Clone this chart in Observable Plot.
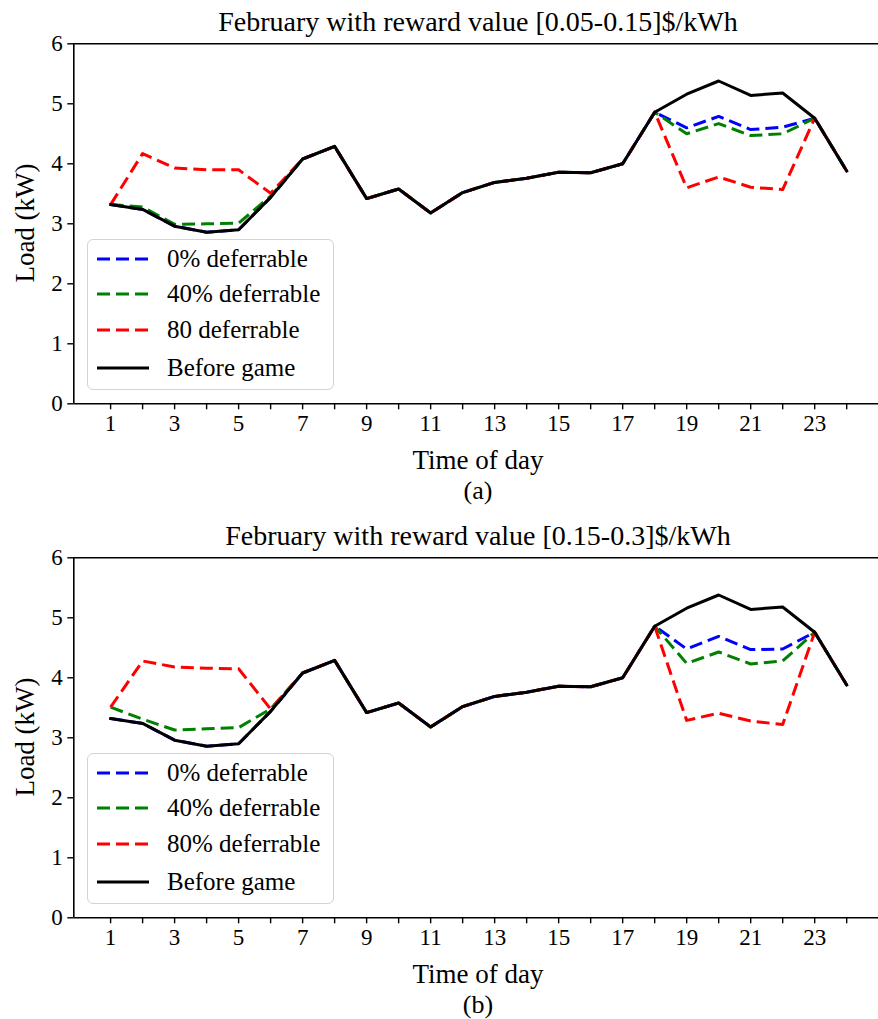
<!DOCTYPE html>
<html>
<head>
<meta charset="utf-8">
<script src="https://cdn.jsdelivr.net/npm/d3@7"></script>
<script src="https://cdn.jsdelivr.net/npm/@observablehq/plot@0.6"></script>
<style>
  html, body { margin: 0; padding: 0; background: white; }
  #page { position: relative; width: 878px; height: 1019px; overflow: hidden; font-family: "Liberation Serif", "Times New Roman", serif; color: black; }
  .panel { position: absolute; left: 0; width: 878px; }
  .lbl { position: absolute; white-space: nowrap; text-align: center; line-height: 30px; }
  .legend { position: absolute; border: 1.5px solid #d3d3d3; border-radius: 6px; background: rgba(255,255,255,0.85); box-sizing: border-box; }
  .legend .row { position: absolute; left: 0; height: 30px; }
  .legend .row svg { position: absolute; left: 8px; top: 0; }
  .legend .row span { position: absolute; left: 79px; top: 0px; font-size: 25px; line-height: 30px; white-space: nowrap; }
</style>
</head>
<body>
<div id="page"></div>
<script>
// ---------- data ----------
const hours = [1,2,3,4,5,6,7,8,9,10,11,12,13,14,15,16,17,18,19,20,21,22,23,24];
const yTicks = [0,1,2,3,4,5,6];

const beforeGame = [3.32,3.24,2.96,2.86,2.90,3.44,4.08,4.29,3.42,3.58,3.18,3.52,3.69,3.76,3.86,3.85,4.00,4.86,5.16,5.38,5.14,5.18,4.76,3.88];

// (a) reward value [0.05-0.15] $/kWh
const a_def0  = [3.32,3.24,2.96,2.86,2.90,3.44,4.08,4.29,3.42,3.58,3.18,3.52,3.69,3.76,3.86,3.85,4.00,4.86,4.60,4.79,4.57,4.61,4.76,3.88];
const a_def40 = [3.32,3.28,2.99,3.00,3.01,3.46,4.08,4.29,3.42,3.58,3.18,3.52,3.69,3.76,3.86,3.85,4.00,4.86,4.50,4.67,4.47,4.50,4.76,3.88];
const a_def80 = [3.32,4.17,3.93,3.90,3.90,3.51,4.08,4.29,3.42,3.58,3.18,3.52,3.69,3.76,3.86,3.85,4.00,4.86,3.60,3.78,3.61,3.57,4.76,3.88];

// (b) reward value [0.15-0.3] $/kWh
const b_def0  = [3.32,3.24,2.96,2.86,2.90,3.44,4.08,4.29,3.42,3.58,3.18,3.52,3.69,3.76,3.86,3.85,4.00,4.86,4.48,4.69,4.47,4.48,4.76,3.88];
const b_def40 = [3.51,3.31,3.13,3.15,3.17,3.48,4.08,4.29,3.42,3.58,3.18,3.52,3.69,3.76,3.86,3.85,4.00,4.86,4.24,4.43,4.23,4.28,4.76,3.88];
const b_def80 = [3.51,4.28,4.18,4.16,4.15,3.48,4.08,4.29,3.42,3.58,3.18,3.52,3.69,3.76,3.86,3.85,4.00,4.86,3.29,3.41,3.28,3.22,4.76,3.88];

const titleA = "February with reward value [0.05-0.15]$/kWh";
const titleB = "February with reward value [0.15-0.3]$/kWh";
const legendA = ["0% deferrable", "40% deferrable", "80 deferrable", "Before game"];
const legendB = ["0% deferrable", "40% deferrable", "80% deferrable", "Before game"];
const colors = ["#0000ff", "#008000", "#ff0000", "#000000"];
const xLabel = "Time of day";
const yLabel = "Load (kW)";

// ---------- drawing ----------
const page = document.getElementById("page");
const PANEL_H = 514;
const DASH = "13,6";
const LW = 3;

function toRows(values) { return hours.map((h, i) => ({hour: h, load: values[i]})); }

function makePanel(top, series, title, legendLabels, caption) {
  const panel = document.createElement("div");
  panel.className = "panel";
  panel.style.top = top + "px";
  panel.style.height = PANEL_H + "px";
  page.appendChild(panel);

  const lineMarks = series.map((vals, i) => Plot.lineY(toRows(vals), {
    x: "hour", y: "load", stroke: colors[i], strokeWidth: LW,
    strokeDasharray: i < 3 ? DASH : null, strokeLinejoin: "round", strokeLinecap: i < 3 ? "butt" : "square"
  }));

  const svg = Plot.plot({
    width: 878, height: PANEL_H,
    marginTop: 43.3, marginBottom: 110.7, marginLeft: 73.3, marginRight: 0,
    x: {domain: [-0.15, 25.15], range: [73.3, 883]},
    y: {domain: [0, 6]},
    style: {fontFamily: "'Liberation Serif', 'Times New Roman', serif", fontSize: "23px", background: "white", color: "black", overflow: "visible"},
    marks: [
      ...lineMarks,
      Plot.ruleY([0, 6], {stroke: "black", strokeWidth: 1.6}),
      Plot.ruleX([-0.15], {stroke: "black", strokeWidth: 1.6}),
      Plot.axisX({ticks: hours, tickSize: 6, tickPadding: 5, tickFormat: d => (d % 2 ? String(d) : ""), label: null, strokeWidth: 1.4, fontSize: 23}),
      Plot.axisY({ticks: yTicks, tickSize: 6, tickPadding: 5, tickFormat: d => String(d), label: null, strokeWidth: 1.4, fontSize: 23})
    ]
  });
  svg.style.position = "absolute";
  svg.style.left = "0px";
  svg.style.top = "0px";
  panel.appendChild(svg);

  const addLabel = (text, cx, cy, rotate, size) => {
    const d = document.createElement("div");
    d.className = "lbl";
    d.textContent = text;
    d.style.width = "700px";
    d.style.left = (cx - 350) + "px";
    d.style.top = (cy - 15) + "px";
    d.style.fontSize = size + "px";
    if (rotate) d.style.transform = "rotate(-90deg)";
    panel.appendChild(d);
  };
  addLabel(title, 478, 22, false, 28);
  addLabel(xLabel, 478, 460, false, 27);
  addLabel(caption, 478, 491, false, 26);
  addLabel(yLabel, 25, 223, true, 27);

  // legend
  const lg = document.createElement("div");
  lg.className = "legend";
  lg.style.left = "87px";
  lg.style.top = "239px";
  lg.style.width = "247px";
  lg.style.height = "151px";
  const rowCenters = [19, 53.5, 90, 127.5];
  legendLabels.forEach((lab, i) => {
    const r = document.createElement("div");
    r.className = "row";
    r.style.top = (rowCenters[i] - 15) + "px";
    r.style.width = "245px";
    r.innerHTML = `<svg width="56" height="30"><line x1="1" x2="53" y1="15" y2="15" stroke="${colors[i]}" stroke-width="${LW}" ${i < 3 ? `stroke-dasharray="${DASH}"` : ""}/></svg><span>${lab}</span>`;
    lg.appendChild(r);
  });
  panel.appendChild(lg);
}

makePanel(0, [a_def0, a_def40, a_def80, beforeGame], titleA, legendA, "(a)");
makePanel(514, [b_def0, b_def40, b_def80, beforeGame], titleB, legendB, "(b)");
</script>
</body>
</html>
